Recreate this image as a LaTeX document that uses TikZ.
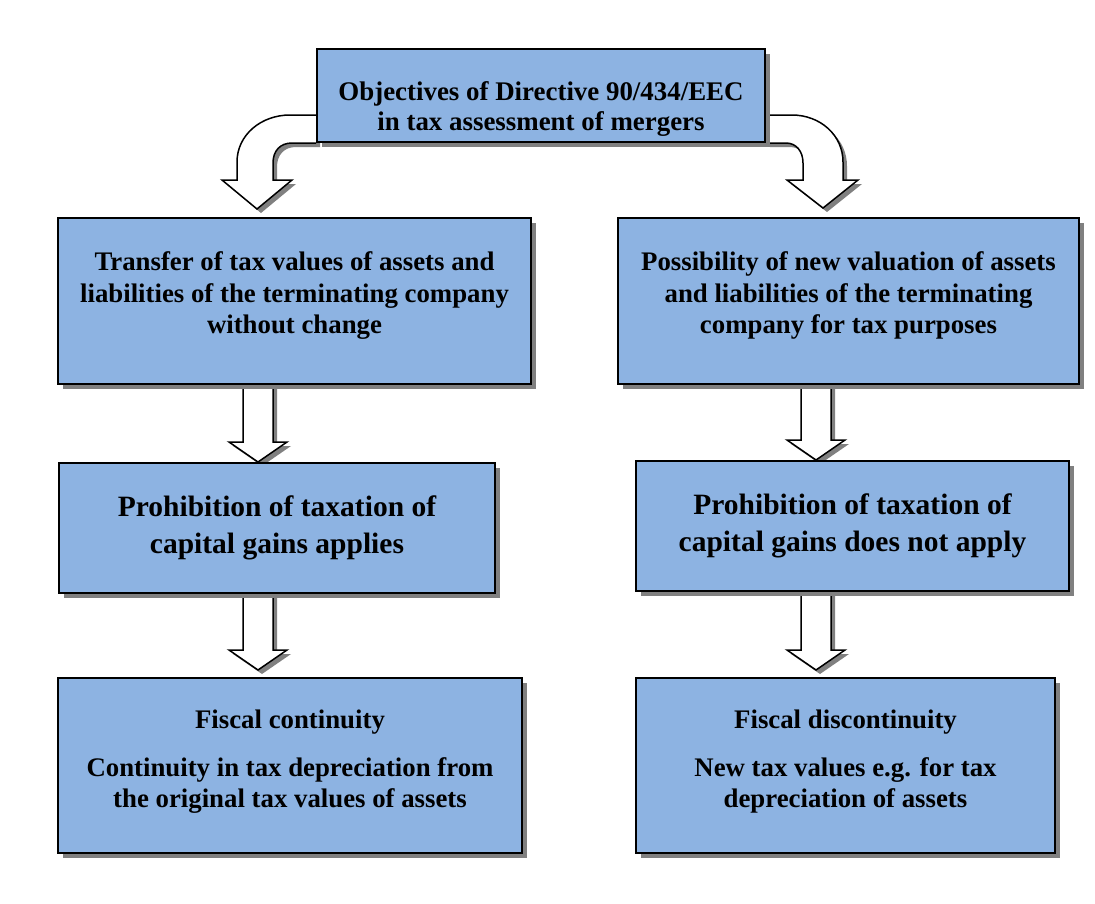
\documentclass[tikz,border=0pt]{standalone}
\usepackage{fontspec}
\setmainfont{Liberation Serif}
\usetikzlibrary{calc,shadows,backgrounds}
\definecolor{boxblue}{RGB}{141,179,226}
\definecolor{shade}{RGB}{128,128,128}

% hollow block arrow pointing down from #1 to the tip #2
\newcommand\blockarrow[2]{%
  \draw[hollow] ($(#1)+(-15,0)$) -- ($(#2)+(-15,-20)$) -- ($(#2)+(-29,-20)$)
    -- (#2) -- ($(#2)+(29,-20)$) -- ($(#2)+(15,-20)$) -- ($(#1)+(15,0)$);}
% invisible struts to move a block of text inside its box
\newcommand\tall[1]{\rule{0pt}{#1}}
\newcommand\deep[1]{\rule[-#1]{0pt}{#1}}

\begin{document}
\begin{tikzpicture}[x=1pt, y=-1pt,
    box/.style={draw=black, line width=2pt, fill=boxblue, align=center, inner sep=2pt,
      font=\bfseries\fontsize{26.8}{31.5}\selectfont,
      drop shadow={shadow xshift=5pt, shadow yshift=-5pt, fill=shade, opacity=1}},
    big/.style={font=\bfseries\fontsize{29.5}{37}\selectfont},
    hollow/.style={draw=black, line width=1.5pt, fill=white, line join=miter,
      drop shadow={shadow xshift=4pt, shadow yshift=-4pt, fill=shade, opacity=1}}]

  \useasboundingbox (0,0) rectangle (1095,903);

  \node[box, minimum width=448pt, minimum height=93pt,
    font=\bfseries\fontsize{26.9}{30}\selectfont] (objectives) at (541,95.5)
    {\tall{46pt}Objectives of Directive 90/434/EEC\\in tax assessment of mergers};

  \node[box, minimum width=473pt, minimum height=166pt] (transfer) at (294.5,301)
    {Transfer of tax values of assets and\\liabilities of the terminating company\\without change\deep{16pt}};
  \node[box, minimum width=461pt, minimum height=166pt] (newval) at (848.5,301)
    {Possibility of new valuation of assets\\and liabilities of the terminating\\company for tax purposes\deep{16pt}};

  \node[box, big, minimum width=436pt, minimum height=130pt] (prohibit) at (277,528)
    {Prohibition of taxation of\\capital gains applies};
  \node[box, big, minimum width=433pt, minimum height=130pt] (noprohibit) at (852.5,526)
    {Prohibition of taxation of\\capital gains does not apply};

  \node[box, minimum width=464pt, minimum height=175pt] (continuity) at (290,765.5)
    {Fiscal continuity\\[16pt]Continuity in tax depreciation from\\the original tax values of assets\deep{13pt}};
  \node[box, minimum width=419pt, minimum height=175pt] (discontinuity) at (845.5,765.5)
    {Fiscal discontinuity\\[16pt]New tax values e.g. for tax\\depreciation of assets\deep{13pt}};

  \coordinate (colL) at (258,0);
  \coordinate (colR) at (816,0);
  \coordinate (tipL) at (257,209);
  \coordinate (tipR) at (823,208);
  \coordinate (tipC) at ($(continuity.north -| colL)+(0,-7)$);
  \coordinate (tipD) at ($(discontinuity.north -| colR)+(0,-7)$);

  \begin{scope}[on background layer]
    \draw[hollow] (objectives.south west) ++(0,-28) -- (290,115)
      .. controls (261,115) and (237,135) .. (237,162) -- (237,180) -- (222,180)
      -- (tipL) -- (292,180) -- (273,180) -- (273,163)
      .. controls (273,151) and (280,143) .. (292,143) -- (objectives.south west);
    \draw[hollow] (objectives.south east) ++(0,-28) -- (792,115)
      .. controls (820,115) and (843,135) .. (843,162) -- (843,180) -- (858,180)
      -- (tipR) -- (787,180) -- (803,180) -- (803,163)
      .. controls (803,151) and (796,143) .. (786,143) -- (objectives.south east);

    \blockarrow{transfer.south -| colL}{prohibit.north -| colL}
    \blockarrow{newval.south -| colR}{noprohibit.north -| colR}
    \blockarrow{prohibit.south -| colL}{tipC}
    \blockarrow{noprohibit.south -| colR}{tipD}
  \end{scope}
\end{tikzpicture}
\end{document}
